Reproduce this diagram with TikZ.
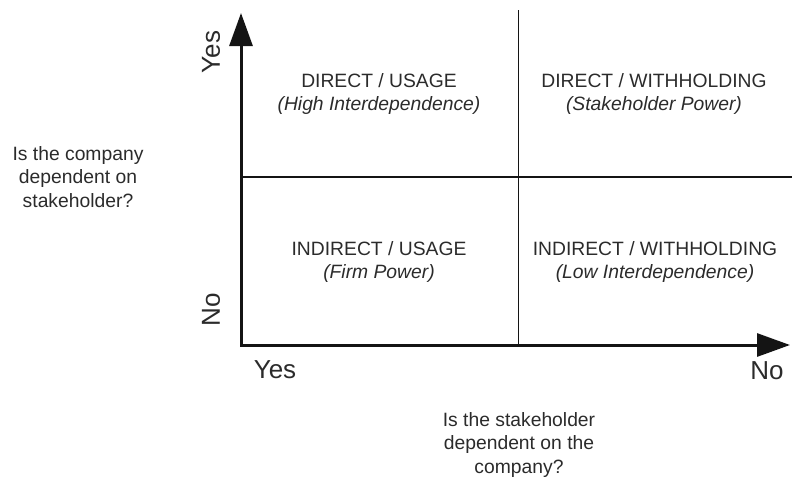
\documentclass[tikz,border=0pt]{standalone}
\usepackage{fontspec}
\setmainfont{Liberation Sans}
\usetikzlibrary{arrows.meta}
\definecolor{ink}{HTML}{141414}
\definecolor{textink}{HTML}{2B2B2B}
\tikzset{
  axis/.style={line width=3pt, draw=ink, line join=miter,
    {Triangle[length=33pt,width=23pt]}-{Triangle[length=33pt,width=23pt]}},
  grid line/.style={line width=1.8pt, draw=ink},
  label text/.style={inner sep=0pt, align=center, text=textink,
    font=\fontsize{19.3}{23.5}\selectfont},
  big text/.style={inner sep=0pt, text=textink, font=\fontsize{26}{30}\selectfont},
}
\newcommand{\quadtext}[2]{#1\\\textit{(#2)}}
\begin{document}
\begin{tikzpicture}[x=1pt, y=-1pt]
  \useasboundingbox (0,0) rectangle (792,479);

  % axis and grid reference points
  \coordinate (ytop) at (241,13);
  \coordinate (origin) at (241,345);
  \coordinate (xend) at (790,345);
  \coordinate (midtop) at (518.5,10);
  \coordinate (midbot) at (518.5,345);
  \coordinate (rowleft) at (241,177);
  \coordinate (rowright) at (792,177);

  % quadrant dividers
  \draw[grid line] (midtop) -- (midbot);
  \draw[grid line] (rowleft) -- (rowright);

  % axes with arrowheads
  \draw[axis] (ytop) -- (origin) -- (xend);

  % axis end labels
  \node[big text, rotate=90] (yyes) at (211,52) {Yes};
  \node[big text, rotate=90] (yno) at (211,310) {No};
  \node[big text] (xyes) at (275,370) {Yes};
  \node[big text] (xno) at (767,371) {No};

  % axis questions
  \node[label text] (yq) at (78,177) {Is the company\\dependent on\\stakeholder?};
  \node[label text] (xq) at (519,445) {Is the stakeholder\\dependent on the\\company?};

  % quadrant labels
  \node[label text] (q1) at (379,94) {\quadtext{DIRECT / USAGE}{High Interdependence}};
  \node[label text] (q2) at (654,94) {\quadtext{DIRECT / WITHHOLDING}{Stakeholder Power}};
  \node[label text] (q3) at (379,262) {\quadtext{INDIRECT / USAGE}{Firm Power}};
  \node[label text] (q4) at (655,262) {\quadtext{INDIRECT / WITHHOLDING}{Low Interdependence}};
\end{tikzpicture}
\end{document}
